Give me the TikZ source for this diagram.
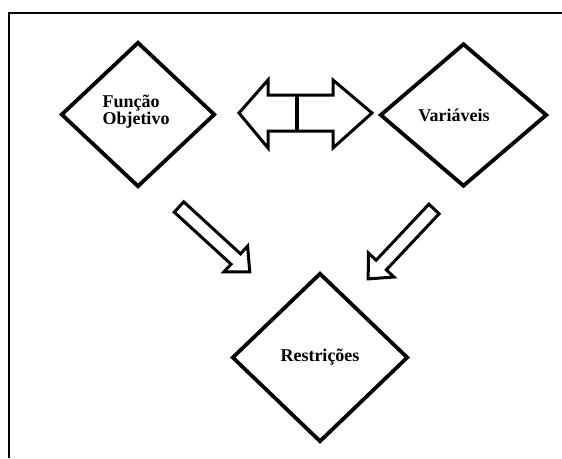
\documentclass[tikz,border=0pt]{standalone}
\usepackage{fontspec}
\setmainfont{Liberation Serif}
\usetikzlibrary{shapes.geometric}
\begin{document}
\begin{tikzpicture}[x=1pt,y=-1pt,
  losango/.style={draw=black, line width=3.8pt, shape=diamond, inner sep=0pt, line join=miter},
  rotulo/.style={font=\fontsize{18}{17}\selectfont\bfseries, text=black, align=left, inner sep=0pt},
  blocoseta/.style={draw=black, line width=3pt, line join=miter, fill=white}
]
\useasboundingbox (0,0) rectangle (562,458);
% moldura
\coordinate (mA) at (9,458);
\coordinate (mB) at (9,13);
\coordinate (mC) at (562,13);
\draw[line width=2.8pt, line join=miter] (mA) -- (mB) -- (mC);

% losangos
\node[losango, minimum width=154pt, minimum height=145pt] (fo) at (138,114.5) {};
\node[losango, minimum width=167pt, minimum height=143pt] (va) at (463.5,115) {};
\node[losango, minimum width=176pt, minimum height=169pt] (re) at (320,357.5) {};

\node[rotulo] (tfo) at (136,112) {Função\\Objetivo};
\node[rotulo] (tva) at (454,115) {Variáveis};
\node[rotulo] (tre) at (320,357) {Restrições};

% seta dupla
\draw[blocoseta] (239,113) -- (268,80) -- (268,95) -- (333,95) -- (333,80) -- (372,113)
  -- (333,148) -- (333,131) -- (268,131) -- (268,148) -- cycle;
\coordinate (b1) at (297,95);
\coordinate (b2) at (297,131);
\draw[line width=4pt] (b1) -- (b2);

% setas inclinadas
\begin{scope}[shift={(179,207)}, rotate=-42.5]
  \draw[blocoseta] (0,-7) -- (77,-7) -- (77,-17.5) -- (96,0) -- (77,17.5) -- (77,7) -- (0,7) -- cycle;
\end{scope}
\begin{scope}[shift={(434,209)}, rotate=-133.3]
  \draw[blocoseta] (0,-7) -- (77,-7) -- (77,-17.5) -- (96,0) -- (77,17.5) -- (77,7) -- (0,7) -- cycle;
\end{scope}
\end{tikzpicture}
\end{document}
